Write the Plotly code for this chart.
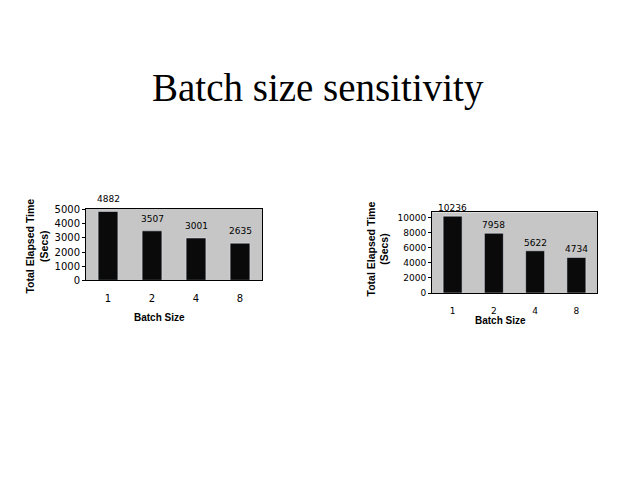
import plotly.graph_objects as go

batch_sizes = ["1", "2", "4", "8"]
left_times = [4882, 3507, 3001, 2635]
right_times = [10236, 7958, 5622, 4734]
left_ticks = [0, 1000, 2000, 3000, 4000, 5000]
right_ticks = [0, 2000, 4000, 6000, 8000, 10000]

title_text = "Batch size sensitivity"
ytitle = "Total Elapsed Time<br>(Secs)"
xtitle = "Batch Size"

BG = "#c6c6c6"
BAR = "#0a0a0a"
TICKFONT = dict(family="DejaVu Sans", size=10, color="black")
TICKFONT9 = dict(family="DejaVu Sans", size=9, color="black")
TITLEFONT = dict(family="Liberation Sans", size=10, color="black")

fig = go.Figure()
fig.add_trace(go.Bar(x=batch_sizes, y=left_times, marker_color=BAR, width=0.45,
                     xaxis="x", yaxis="y", showlegend=False))
fig.add_trace(go.Bar(x=batch_sizes, y=right_times, marker_color=BAR, width=0.46,
                     xaxis="x2", yaxis="y2", showlegend=False))

W, H = 640, 480
OFF = 8  # page body margin
def px(x):
    return (x - OFF) / W
def py(y):
    return 1 - (y - OFF) / H

common_x = dict(type="category", showline=True, linecolor="black", mirror=True,
                ticks="", showgrid=False, zeroline=False,
                range=[-0.5, len(batch_sizes) - 0.5], categoryorder="array",
                categoryarray=batch_sizes)
common_y = dict(showline=True, linecolor="black", mirror=True, ticks="outside",
                ticklen=3, tickcolor="black", showgrid=False, zeroline=False)

fig.update_layout(
    width=W, height=H,
    margin=dict(l=0, r=0, t=0, b=0),
    paper_bgcolor="white",
    plot_bgcolor=BG,
    xaxis=dict(domain=[px(86), px(262)], anchor="y", ticklabelstandoff=9,
               tickfont=TICKFONT, **common_x),
    yaxis=dict(domain=[py(282), py(209)], anchor="x", range=[0, 5070],
               tickvals=left_ticks, ticktext=[str(t) for t in left_ticks],
               tickfont=TICKFONT, **common_y),
    xaxis2=dict(domain=[px(432), px(597)], anchor="y2", ticklabelstandoff=9,
                tickfont=TICKFONT9, **common_x),
    yaxis2=dict(domain=[py(295), py(212.7)], anchor="x2", range=[0, 10730],
                tickvals=right_ticks, ticktext=[str(t) for t in right_ticks],
                tickfont=TICKFONT9, **common_y),
)

anns = []
# data labels
for i, v in enumerate(left_times):
    anns.append(dict(x=i, y=v, xref="x", yref="y", text=str(v), showarrow=False,
                     yanchor="bottom", yshift=5,
                     font=dict(family="DejaVu Sans", size=9, color="black")))
for i, v in enumerate(right_times):
    anns.append(dict(x=i, y=v, xref="x2", yref="y2", text=str(v), showarrow=False,
                     yanchor="bottom", yshift=1,
                     font=dict(family="DejaVu Sans", size=9, color="black")))

# main title
anns.append(dict(x=px(317.5), y=py(86), xref="paper", yref="paper", text=title_text,
                 showarrow=False, xanchor="center", yanchor="middle",
                 font=dict(family="Liberation Serif", size=39, color="black")))

# axis titles
for xc, yc in [(159.5, 320.5), (500, 323)]:
    anns.append(dict(x=px(xc), y=py(yc), xref="paper", yref="paper",
                     text="<b>" + xtitle + "</b>", showarrow=False,
                     xanchor="center", yanchor="middle", font=TITLEFONT))
for xc, yc in [(37.5, 247), (377.5, 250)]:
    anns.append(dict(x=px(xc), y=py(yc), xref="paper", yref="paper",
                     text="<b>" + ytitle + "</b>", showarrow=False, textangle=-90,
                     xanchor="center", yanchor="middle",
                     font=dict(family="Liberation Sans", size=10.5, color="black")))

fig.update_layout(annotations=anns)
fig.write_html("out.html")
